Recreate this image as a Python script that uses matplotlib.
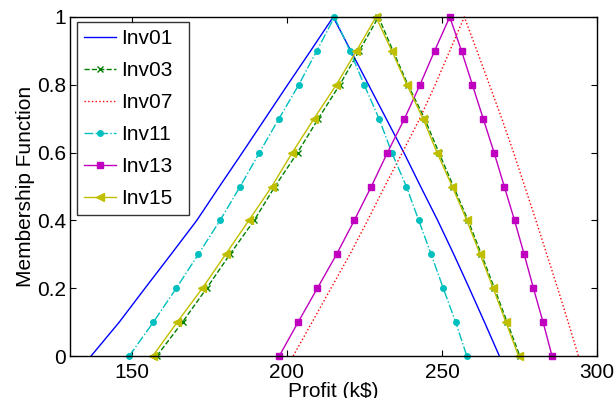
import matplotlib
matplotlib.use("Agg")
import matplotlib.pyplot as plt

plt.rcParams['font.family'] = ['Liberation Sans', 'DejaVu Sans']

levels = [0.0, 0.1, 0.2, 0.3, 0.4, 0.5, 0.6, 0.7, 0.8, 0.9, 1.0]

# Left (rising) and right (falling) branches, profit values at each membership level
inv01_left  = [136.8, 145.9, 154.2, 162.6, 170.9, 178.2, 185.6, 192.9, 200.2, 207.6, 214.9]
inv01_right = [268.5, 263.7, 258.8, 253.8, 248.6, 243.1, 237.7, 232.0, 226.3, 220.6, 214.9]

inv03_left  = [158.0, 166.3, 174.1, 181.6, 189.4, 196.1, 203.4, 210.1, 217.0, 223.3, 229.5]
inv03_right = [275.1, 271.0, 266.9, 262.7, 258.4, 253.7, 249.0, 244.4, 239.0, 234.2, 229.5]

inv07_left  = [202.0, 208.1, 214.2, 220.3, 226.0, 231.5, 237.2, 242.8, 247.8, 252.5, 257.2]
inv07_right = [294.0, 290.7, 287.3, 283.8, 280.3, 276.7, 273.1, 269.3, 265.3, 261.3, 257.2]

inv11_left  = [149.1, 156.9, 164.3, 171.4, 178.4, 184.9, 191.1, 197.4, 203.8, 209.6, 215.3]
inv11_right = [258.0, 254.4, 250.4, 246.5, 242.5, 238.5, 233.8, 229.7, 224.9, 220.3, 215.3]

inv13_left  = [197.5, 203.6, 209.8, 216.0, 221.7, 227.2, 232.4, 237.9, 242.9, 247.6, 252.5]
inv13_right = [285.5, 282.6, 279.5, 276.5, 273.4, 270.1, 266.8, 263.3, 259.8, 256.3, 252.5]

inv15_left  = [156.7, 164.6, 172.7, 180.2, 187.7, 195.1, 201.7, 208.7, 215.9, 222.4, 228.7]
inv15_right = [274.7, 270.6, 266.5, 262.3, 258.0, 253.3, 248.4, 243.9, 238.7, 233.8, 228.7]

series = [
    ("Inv01", inv01_left, inv01_right, dict(color=(0, 0, 1), ls='-', marker=None)),
    ("Inv03", inv03_left, inv03_right, dict(color=(0, 0.5, 0), ls='--', marker='x', ms=4.5, mew=1.0)),
    ("Inv07", inv07_left, inv07_right, dict(color=(1, 0, 0), ls=':', marker=None)),
    ("Inv11", inv11_left, inv11_right, dict(color=(0, 0.75, 0.75), ls='-.', marker='o', ms=4)),
    ("Inv13", inv13_left, inv13_right, dict(color=(0.75, 0, 0.75), ls='-', marker='s', ms=4.3)),
    ("Inv15", inv15_left, inv15_right, dict(color=(0.75, 0.75, 0), ls='-', marker='<', ms=6)),
]

fig = plt.figure(figsize=(6.15, 3.98), dpi=100)
ax = fig.add_axes([70/615, 42/398, 527/615, 339/398])

for name, left, right, st in series:
    xs = list(left) + list(reversed(right))[1:]
    ys = list(levels) + list(reversed(levels))[1:]
    ax.plot(xs, ys, label=name, lw=1.0, color=st['color'], ls=st['ls'],
            marker=st.get('marker'), ms=st.get('ms', 4), mew=st.get('mew', 1.0),
            mfc=st['color'], mec=st['color'], clip_on=False)

ax.set_xlim(130, 300)
ax.set_ylim(0, 1)
ax.set_xticks([150, 200, 250, 300])
ax.set_yticks([0, 0.2, 0.4, 0.6, 0.8, 1])
ax.set_yticklabels(['0', '0.2', '0.4', '0.6', '0.8', '1'])
ax.tick_params(direction='in', length=4, width=0.8, top=True, right=True,
               labelsize=15, pad=5)
ax.tick_params(axis='y', pad=3)
for sp in ax.spines.values():
    sp.set_linewidth(1.0)
ax.set_xlabel('Profit (k$)', fontsize=15, labelpad=0)
ax.set_ylabel('Membership Function', fontsize=15, labelpad=1)

leg = ax.legend(loc='upper left', fontsize=15, frameon=True, fancybox=False,
                edgecolor='black', handlelength=1.5, handletextpad=0.25,
                labelspacing=0.62, borderpad=0.35, borderaxespad=0.0,
                bbox_to_anchor=(7/527, 1 - 5/339, 112/527, 0.0), mode='expand')
leg.get_frame().set_linewidth(1.0)

fig.savefig('out.png', dpi=100)
